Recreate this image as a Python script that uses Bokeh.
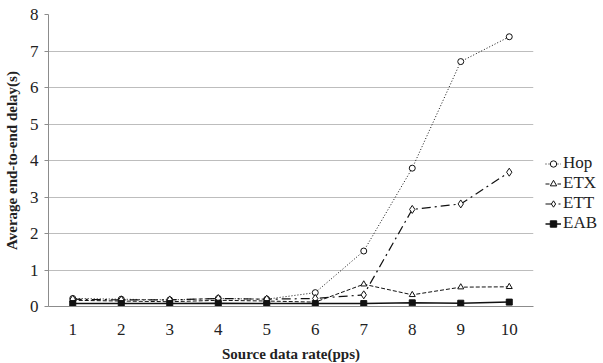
from bokeh.plotting import figure
from bokeh.models import Legend, LegendItem, Range1d, FixedTicker
from bokeh.embed import file_html
from bokeh.resources import INLINE

rates = [1, 2, 3, 4, 5, 6, 7, 8, 9, 10]
hop = [0.22, 0.20, 0.18, 0.22, 0.20, 0.38, 1.52, 3.79, 6.71, 7.39]
etx = [0.17, 0.15, 0.13, 0.17, 0.15, 0.12, 0.61, 0.32, 0.53, 0.54]
ett = [0.20, 0.18, 0.18, 0.22, 0.20, 0.22, 0.32, 2.66, 2.81, 3.68]
eab = [0.08, 0.08, 0.08, 0.09, 0.08, 0.08, 0.08, 0.10, 0.09, 0.12]
y_ticks = [0, 1, 2, 3, 4, 5, 6, 7, 8]

FONT = "Liberation Serif"

p = figure(frame_width=485, frame_height=292, output_backend="svg",
           toolbar_location=None, x_range=Range1d(0.5, 10.5), y_range=Range1d(0, 8),
           min_border_left=41, min_border_top=14, min_border_right=10, min_border_bottom=10)
p.outline_line_color = None
p.background_fill_color = "white"

p.xgrid.grid_line_color = None
p.ygrid.grid_line_color = "#bdbdbd"
p.ygrid.grid_line_width = 1

p.xaxis.ticker = FixedTicker(ticks=rates)
p.yaxis.ticker = FixedTicker(ticks=y_ticks)
for ax in (p.xaxis, p.yaxis):
    ax.axis_line_color = "#8c8c8c"
    ax.major_label_text_font = FONT
    ax.major_label_text_font_size = "17px"
    ax.major_label_text_color = "#222222"
    ax.axis_label_text_font = FONT
    ax.axis_label_text_font_style = "bold"
    ax.axis_label_text_font_size = "15px"
    ax.axis_label_text_color = "#222222"
    ax.minor_tick_line_color = None
p.xaxis.major_tick_line_color = None
p.xaxis.major_label_standoff = 11
p.xaxis.axis_label_standoff = 8
p.yaxis.major_tick_line_color = "#8c8c8c"
p.yaxis.major_tick_out = 4
p.yaxis.major_tick_in = 0
p.yaxis.major_label_standoff = 6
p.yaxis.axis_label_standoff = 7
p.xaxis.axis_label = "Source data rate(pps)"
p.yaxis.axis_label = "Average end-to-end delay(s)"

c = "#111111"
l1 = p.line(rates, hop, line_color=c, line_width=1, line_dash="1 2")
m1 = p.scatter(rates, hop, marker="circle", size=6, fill_color="white", line_color=c, line_width=1)
l2 = p.line(rates, etx, line_color=c, line_width=1, line_dash="4 2")
m2 = p.scatter(rates, etx, marker="triangle", size=6, fill_color="white", line_color=c, line_width=1)
l3 = p.line(rates, ett, line_color=c, line_width=1.2, line_dash="9 4 2 4")
m3 = p.scatter(rates, ett, marker="diamond", size=8, fill_color="white", line_color=c, line_width=1)
l4 = p.line(rates, eab, line_color=c, line_width=1.5)
m4 = p.scatter(rates, eab, marker="square", size=6, fill_color=c, line_color=c)

legend = Legend(items=[
    LegendItem(label="Hop", renderers=[l1, m1]),
    LegendItem(label="ETX", renderers=[l2, m2]),
    LegendItem(label="ETT", renderers=[l3, m3]),
    LegendItem(label="EAB", renderers=[l4, m4]),
], location=(12, 73))
legend.border_line_color = None
legend.background_fill_alpha = 0
legend.padding = 0
legend.margin = 0
legend.spacing = 0
legend.glyph_width = 16
legend.glyph_height = 19
legend.label_height = 19
legend.label_standoff = 2
legend.label_text_font = FONT
legend.label_text_font_size = "17px"
legend.label_text_color = "#222222"
p.add_layout(legend, "right")

open("out.html", "w").write(file_html(p, INLINE))
